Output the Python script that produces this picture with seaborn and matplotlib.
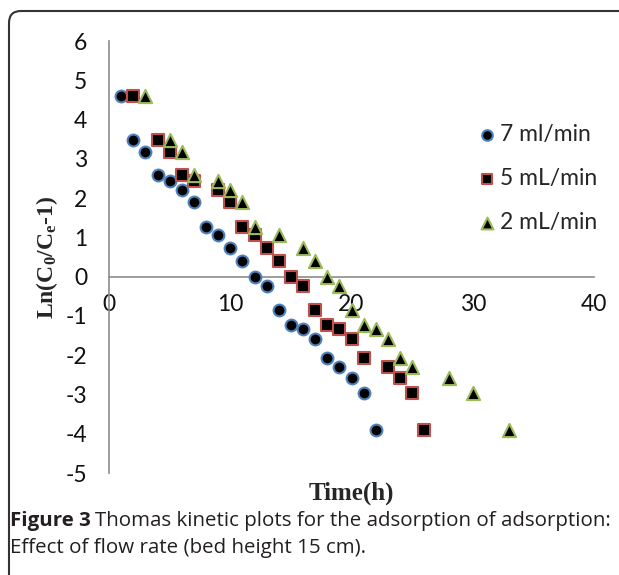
import matplotlib
matplotlib.use("Agg")
import matplotlib.pyplot as plt
import seaborn as sns
import pandas as pd
from matplotlib.patches import FancyBboxPatch
from matplotlib.transforms import IdentityTransform

# ---- data ----
ln_values = [4.6, 3.48, 3.18, 2.6, 2.44, 2.2, 1.91, 1.27, 1.06, 0.72, 0.41,
             0.0, -0.25, -0.85, -1.22, -1.33, -1.59, -2.08, -2.31, -2.58, -2.96, -3.9]
time_7 = [1, 2, 3, 4, 5, 6, 7, 8, 9, 10, 11, 12, 13, 14, 15, 16, 17, 18, 19, 20, 21, 22]
time_5 = [2, 4, 5, 6, 7, 9, 10, 11, 12, 13, 14, 15, 16, 17, 18, 19, 20, 21, 23, 24, 25, 26]
time_2 = [3, 5, 6, 7, 9, 10, 11, 12, 14, 16, 17, 18, 19, 20, 21, 22, 23, 24, 25, 28, 30, 33]
series_labels = ["7 ml/min", "5 mL/min", "2 mL/min"]
x_ticks = [0, 10, 20, 30, 40]
y_ticks = [-5, -4, -3, -2, -1, 0, 1, 2, 3, 4, 5, 6]

sns.set_style("white")
plt.rcParams['font.family'] = ['Lato', 'DejaVu Sans']
plt.rcParams['mathtext.fontset'] = 'custom'
plt.rcParams['mathtext.rm'] = 'Liberation Serif:bold'
plt.rcParams['mathtext.it'] = 'Liberation Serif:bold'
plt.rcParams['mathtext.bf'] = 'Liberation Serif:bold'

W, H = 619, 575
fig = plt.figure(figsize=(W/100, H/100), dpi=100)
ax = fig.add_axes([109/W, 1-473/H, (594-109)/W, (473-41)/H])

frames = []
for lab, t in zip(series_labels, [time_7, time_5, time_2]):
    frames.append(pd.DataFrame({"time": t, "ln": ln_values, "series": lab}))
df = pd.concat(frames, ignore_index=True)

styles = {
    "7 ml/min": dict(marker="o", edgecolor="#4F81BD", s=72),
    "5 mL/min": dict(marker="s", edgecolor="#C0504D", s=66),
    "2 mL/min": dict(marker="^", edgecolor="#9BBB59", s=90),
}
for lab in series_labels:
    st = styles[lab]
    sns.scatterplot(data=df[df.series == lab], x="time", y="ln", ax=ax,
                    marker=st["marker"], color="black", edgecolor=st["edgecolor"],
                    linewidth=1.5, s=st["s"], label=lab, zorder=3)

ax.set_xlim(0, 40)
ax.set_ylim(-5, 6)
ax.set_xticks(x_ticks)
ax.set_yticks(y_ticks)
ax.set_xticklabels([str(v) for v in x_ticks])
ax.set_yticklabels([str(v) for v in y_ticks])

for s in ["top", "right"]:
    ax.spines[s].set_visible(False)
ax.spines["bottom"].set_position(("data", 0))
for s in ["left", "bottom"]:
    ax.spines[s].set_color("#8c8c8c")
    ax.spines[s].set_linewidth(1.2)
ax.tick_params(axis="both", which="major", direction="out", length=5.5,
               width=1.2, color="#8c8c8c", labelsize=16.5, labelcolor="#111111")
ax.tick_params(axis="y", pad=10)
ax.tick_params(axis="x", pad=7)

ax.set_xlabel("")
ax.set_ylabel("")

fig.text(351/W, 1-493/H, "Time(h)", family="Liberation Serif",
         weight="bold", fontsize=18, ha="center", va="center")
fig.text(47/W, 1-257/H, r"Ln(C$_{0}$/C$_{e}$-1)", family="Liberation Serif",
         weight="bold", fontsize=17, ha="center", va="center", rotation=90)

leg = ax.legend(loc="upper left", bbox_to_anchor=(478/W, 1-124/H),
                bbox_transform=fig.transFigure, frameon=False, fontsize=16.5,
                handletextpad=0.2, labelspacing=1.0, markerscale=0.9,
                borderpad=0, borderaxespad=0, handlelength=0.75)

cap_color = "#231f20"
cap_y1 = 1 - 521/H
cap_y2 = 1 - 548/H
t1 = fig.text(10/W, cap_y1, "Figure 3", family="Open Sans", weight="bold",
              fontsize=14.75, ha="left", va="center", color=cap_color)
fig.canvas.draw()
bb = t1.get_window_extent()
fig.text((bb.x1 + 4)/W, cap_y1, "Thomas kinetic plots for the adsorption of adsorption:",
         family="Open Sans", fontsize=14.75, ha="left", va="center", color=cap_color)
fig.text(10/W, cap_y2, "Effect of flow rate (bed height 15 cm).",
         family="Open Sans", fontsize=14.75, ha="left", va="center", color=cap_color)

# border: rounded top-left corner, top and left edges only visible
box = FancyBboxPatch((9, -200), 1000, (H - 11) + 200,
                     boxstyle="round,pad=0,rounding_size=12",
                     transform=IdentityTransform(), facecolor="none",
                     edgecolor="#333333", linewidth=1.5, clip_on=False)
fig.patches.append(box)

fig.savefig("out.png", dpi=100)
